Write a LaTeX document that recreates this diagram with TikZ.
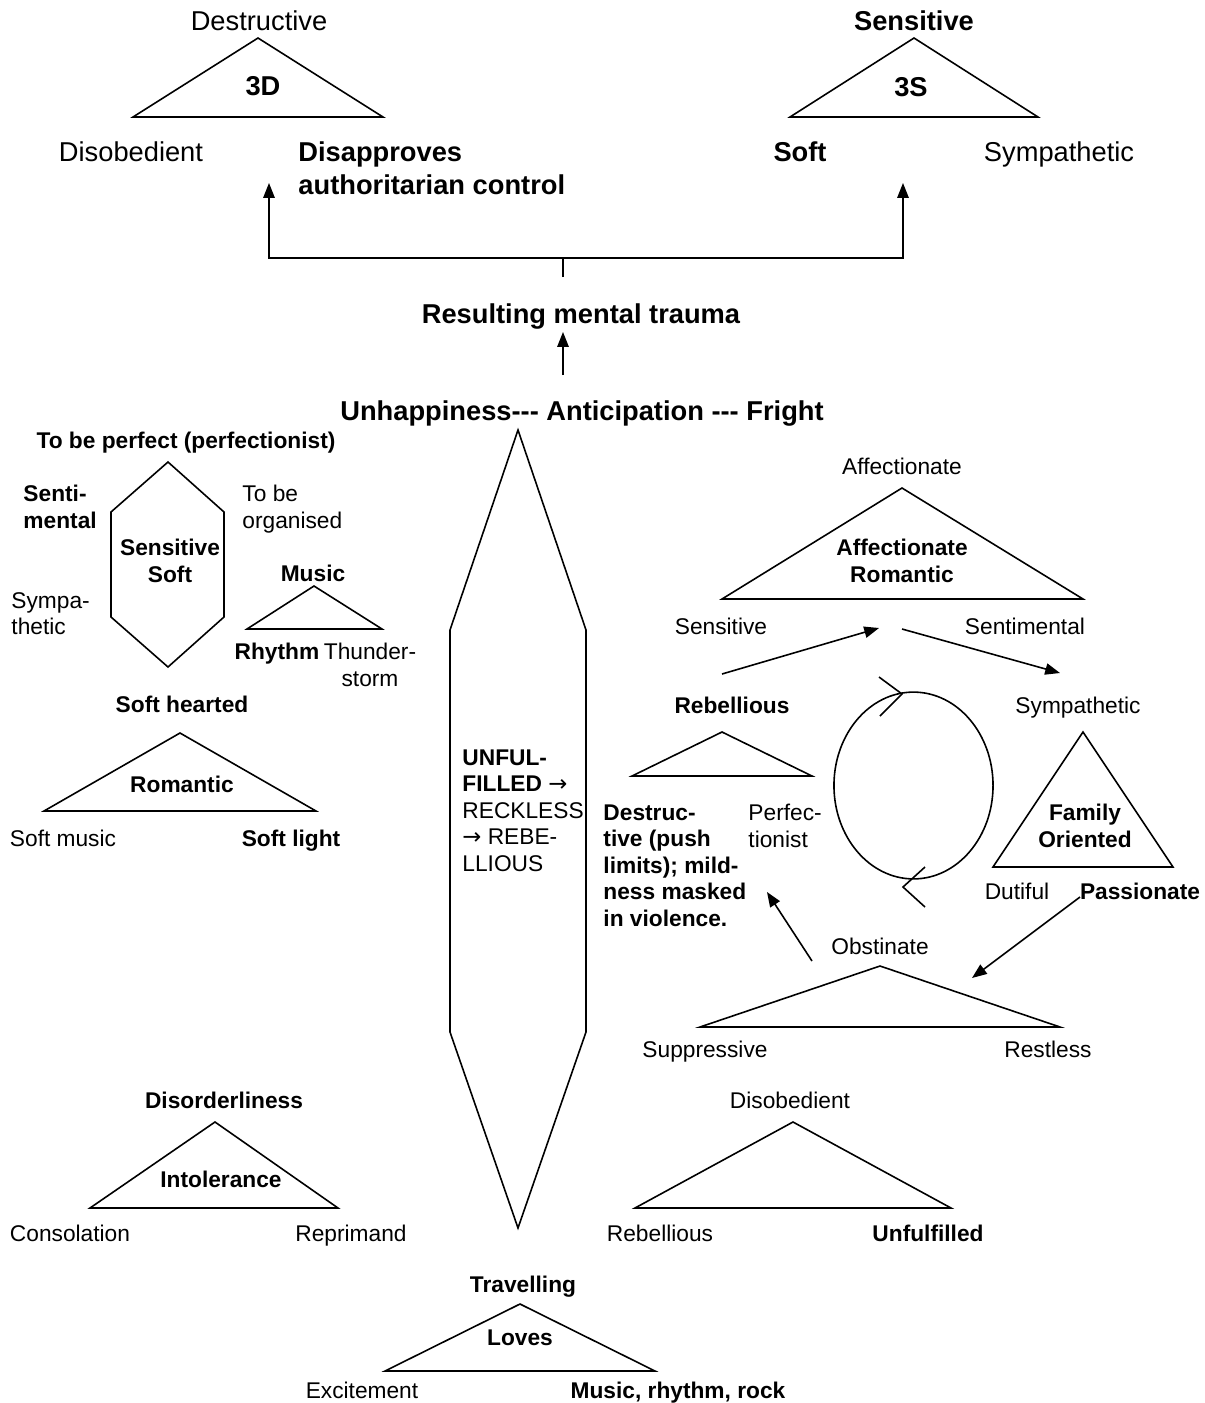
\documentclass[tikz,border=0pt]{standalone}
\usepackage{fontspec}
\setmainfont{Liberation Sans}
\newfontfamily\arrowfont{DejaVu Sans}
\usetikzlibrary{arrows.meta}

\tikzset{
  lbl/.style={inner sep=0pt, anchor=north, font=\fontsize{10}{11.7}\selectfont},
  blbl/.style={lbl, font=\fontsize{10}{11.7}\selectfont\bfseries},
  big/.style={inner sep=0pt, anchor=north, font=\fontsize{12}{14.5}\selectfont},
  bbig/.style={big, font=\fontsize{12}{14.5}\selectfont\bfseries},
  shapeline/.style={line width=0.7pt, line join=miter},
  arr/.style={line width=0.7pt, -{Triangle[length=6.5pt,width=5pt]}},
}

\begin{document}
\begin{tikzpicture}[x=0.44pt, y=-0.44pt]
	\useasboundingbox (0,0) rectangle (1205,1403);

	% 3D triangle
	\draw[shapeline] (258,38) -- (383,117) -- (133,117) -- cycle;
	\node[big] (destr) at (259,10) {Destructive};
	\node[bbig] (threed) at (263,76) {3D};
	\node[big] (disobtop) at (131,141) {Disobedient};
	\node[bbig, anchor=north west, align=left] (disapp) at (298,141) {Disapproves\\authoritarian control};

	% 3S triangle
	\draw[shapeline] (914,38) -- (1038,117) -- (790,117) -- cycle;
	\node[bbig] (senstop) at (914,10) {Sensitive};
	\node[bbig] (threes) at (911,77) {3S};
	\node[bbig] (softtop) at (800,141) {Soft};
	\node[big] (symptop) at (1059,141) {Sympathetic};

	% trauma splits into both
	\coordinate (fork) at (563,277);
	\coordinate (junc) at (563,258);
	\coordinate (dtip) at (269,183);
	\coordinate (stip) at (903,183);
	\draw[line width=0.7pt] (fork) -- (junc);
	\draw[arr] (junc) -| (dtip);
	\draw[arr] (junc) -| (stip);

	\node[bbig] (result) at (581,303) {Resulting mental trauma};
	\coordinate (upfrom) at (563,375);
	\coordinate (upto) at (563,332);
	\draw[arr] (upfrom) -- (upto);
	\node[bbig] (unhap) at (582,400) {Unhappiness-{}-{}- Anticipation -{}-{}- Fright};

	% left hexagon
	\node[blbl] (perfect) at (186,432) {To be perfect (perfectionist)};
	\draw[shapeline] (168,462) -- (224,512) -- (224,617) -- (168,667) -- (111,617) -- (111,512) -- cycle;
	\node[blbl, anchor=north west, align=left] (senti) at (23,485) {Senti-\\mental};
	\node[lbl, anchor=north west, align=left] (organ) at (242,485) {To be\\organised};
	\node[blbl, align=center] (senssoft) at (170,539) {Sensitive\\Soft};
	\node[lbl, anchor=north west, align=left] (sympa) at (11,592) {Sympa-\\thetic};

	% music triangle
	\node[blbl] (music) at (313,565) {Music};
	\draw[shapeline] (314,586) -- (382,629) -- (247,629) -- cycle;
	\node[blbl] (rhythm) at (277,643) {Rhythm};
	\node[lbl, align=center] (thunder) at (370,643) {Thunder-\\storm};

	% romantic triangle
	\node[blbl] (softheart) at (182,696) {Soft hearted};
	\draw[shapeline] (180,733) -- (316,811) -- (44,811) -- cycle;
	\node[blbl] (romantic) at (182,776) {Romantic};
	\node[lbl] (softmusic) at (63,830) {Soft music};
	\node[blbl] (softlight) at (291,830) {Soft light};

	% long middle hexagon
	\draw[shapeline] (518,430) -- (586,630) -- (586,1032) -- (518,1228) -- (450,1032) -- (450,630) -- cycle;
	\node[lbl, anchor=north west, align=left] (unful) at (462,749)
		{\textbf{UNFUL-}\\\textbf{FILLED} {\arrowfont →}\\RECKLESS\\{\arrowfont →} REBE-\\LLIOUS};

	% affectionate triangle
	\node[lbl] (affect) at (902,458) {Affectionate};
	\draw[shapeline] (902,488) -- (1083,599) -- (722,599) -- cycle;
	\node[blbl, align=center] (affrom) at (902,539) {Affectionate\\Romantic};
	\node[lbl] (sensr) at (721,618) {Sensitive};
	\node[lbl] (sentim) at (1025,618) {Sentimental};

	% arrows round the cycle
	\coordinate (a1s) at (722,674);
	\coordinate (a1e) at (879,628);
	\coordinate (a2s) at (902,629);
	\coordinate (a2e) at (1060,673);
	\draw[arr] (a1s) -- (a1e);
	\draw[arr] (a2s) -- (a2e);

	% rebellious triangle
	\node[blbl] (rebel) at (732,697) {Rebellious};
	\draw[shapeline] (722,732) -- (812,776) -- (632,776) -- cycle;
	\node[blbl, anchor=north west, align=left] (destruc) at (603,804)
		{Destruc-\\tive (push\\limits); mild-\\ness masked\\in violence.};
	\node[lbl, anchor=north west, align=left] (perfec) at (748,804) {Perfec-\\tionist};

	% cycle
	\draw[line width=0.7pt] (913.5,785.5) ellipse [x radius=35pt, y radius=41.1pt];
	\draw[line width=0.7pt] (879,677) -- (902,694) -- (880,716);
	\draw[line width=0.7pt] (925,867) -- (903,887) -- (925,907);

	% family triangle
	\node[lbl] (sympr) at (1078,697) {Sympathetic};
	\draw[shapeline] (1083,732) -- (1173,867) -- (993,867) -- cycle;
	\node[blbl, align=center] (family) at (1085,804) {Family\\Oriented};
	\node[lbl] (dutiful) at (1017,883) {Dutiful};
	\node[blbl] (passion) at (1140,883) {Passionate};

	\coordinate (a3s) at (1080,897);
	\coordinate (a3e) at (972,978);
	\coordinate (a4s) at (812,961);
	\coordinate (a4e) at (767,892);
	\draw[arr] (a3s) -- (a3e);
	\draw[arr] (a4s) -- (a4e);

	% obstinate triangle
	\node[lbl] (obst) at (880,938) {Obstinate};
	\draw[shapeline] (880,966) -- (1060,1027) -- (700,1027) -- cycle;
	\node[lbl] (suppr) at (705,1041) {Suppressive};
	\node[lbl] (restless) at (1048,1041) {Restless};

	% intolerance triangle
	\node[blbl] (disorder) at (224,1092) {Disorderliness};
	\draw[shapeline] (215,1122) -- (338,1208) -- (90,1208) -- cycle;
	\node[blbl] (intol) at (221,1171) {Intolerance};
	\node[lbl] (consol) at (70,1225) {Consolation};
	\node[lbl] (reprim) at (351,1225) {Reprimand};

	% disobedient triangle
	\node[lbl] (disobbot) at (790,1092) {Disobedient};
	\draw[shapeline] (793,1122) -- (951,1208) -- (635,1208) -- cycle;
	\node[lbl] (rebelbot) at (660,1225) {Rebellious};
	\node[blbl] (unfulbot) at (928,1225) {Unfulfilled};

	% loves triangle
	\node[blbl] (travel) at (523,1276) {Travelling};
	\draw[shapeline] (520,1304) -- (655,1371) -- (385,1371) -- cycle;
	\node[blbl] (loves) at (520,1329) {Loves};
	\node[lbl] (excite) at (362,1382) {Excitement};
	\node[blbl] (musrock) at (678,1382) {Music, rhythm, rock};

\end{tikzpicture}
\end{document}
